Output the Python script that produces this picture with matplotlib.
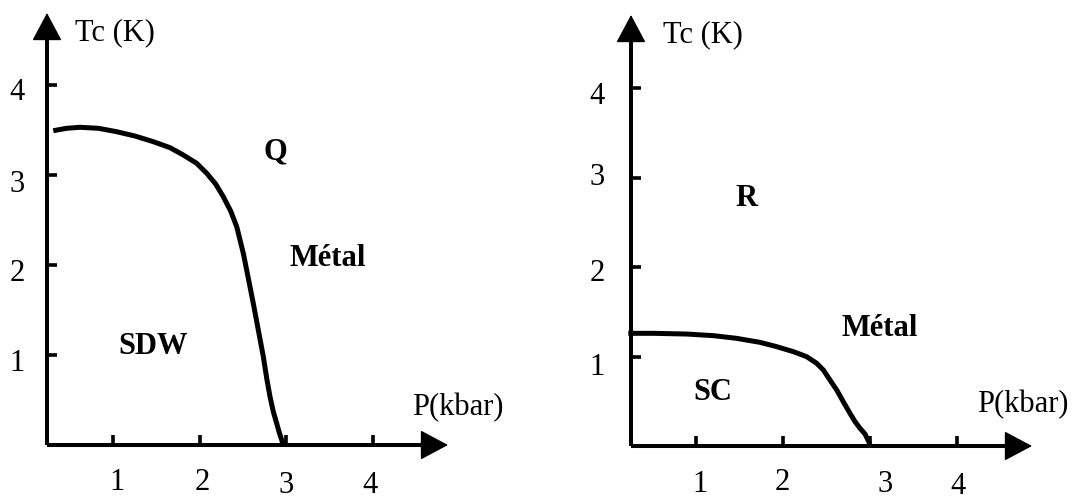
import matplotlib
matplotlib.use("Agg")
import matplotlib.pyplot as plt

# ---------------- data ----------------
ticks = [1, 2, 3, 4]
tick_labels = ["1", "2", "3", "4"]

# left panel: SDW boundary (P in kbar, Tc in K)
sdw_p = [0.311, 0.466, 0.619, 0.831, 1.043, 1.254, 1.465, 1.657, 1.811, 1.965,
         2.081, 2.184, 2.272, 2.357, 2.427, 2.465, 2.503, 2.561, 2.618, 2.676,
         2.734, 2.773, 2.811, 2.849, 2.888, 2.918, 2.946, 2.964]
sdw_t = [3.492, 3.519, 3.530, 3.519, 3.481, 3.433, 3.370, 3.304, 3.222, 3.130,
         3.019, 2.900, 2.759, 2.600, 2.426, 2.278, 2.130, 1.852, 1.574, 1.278,
         0.981, 0.741, 0.537, 0.370, 0.241, 0.137, 0.056, 0.0]

# right panel: SC boundary
sc_p = [0.222, 0.510, 0.893, 1.199, 1.467, 1.736, 1.927, 2.119, 2.272, 2.387,
        2.464, 2.540, 2.617, 2.693, 2.770, 2.828, 2.885, 2.943, 3.000]
sc_t = [1.259, 1.259, 1.251, 1.233, 1.203, 1.158, 1.110, 1.054, 0.998, 0.924,
        0.849, 0.737, 0.626, 0.495, 0.365, 0.272, 0.198, 0.134, 0.02]

ylabel_text = "Tc (K)"
xlabel_text = "P(kbar)"

plt.rcParams['font.family'] = ['Liberation Serif', 'DejaVu Serif']

W, H = 1077, 499
fig = plt.figure(figsize=(W / 100, H / 100), dpi=100)

FS = 22
LW_AX = 2.9
LW_CURVE = 3.6


def make_panel(px0, px1, ox, sx, oy, sy, curve_p, curve_t, xtip, ytip,
               ylab_dx, ylab_dy, xlab_dx, xlab_y, ylabel_pos, xlabel_pos, region_texts):
    ax = fig.add_axes([px0 / W, 0, (px1 - px0) / W, 1])
    ax.set_xlim((px0 - ox) / sx, (px1 - ox) / sx)
    ax.set_ylim((oy - H) / sy, oy / sy)
    ax.set_axis_off()
    x0 = ylab_dx[0]
    ax.plot([x0, xtip - 0.2], [0, 0], color='black', lw=LW_AX, solid_capstyle='butt')
    ax.plot([x0, x0], [0, ytip - 0.2], color='black', lw=LW_AX, solid_capstyle='butt')
    for xy, xyt in (((xtip, 0), (xtip - 0.3, 0)), ((x0, ytip), (x0, ytip - 0.3))):
        ax.annotate('', xy=xy, xytext=xyt,
                    arrowprops=dict(arrowstyle='-|>,head_length=0.9,head_width=0.48',
                                    color='black', lw=1, mutation_scale=20,
                                    shrinkA=0, shrinkB=0))
    tlx = 10 / sx
    tly = 10 / sy
    for t in ticks:
        ax.plot([x0, x0 + tlx], [t, t], color='black', lw=2.6, solid_capstyle='butt')
        ax.plot([t, t], [0, tly], color='black', lw=2.6, solid_capstyle='butt')
    for i, (t, lab) in enumerate(zip(ticks, tick_labels)):
        ax.text(ylab_dx[1], t + ylab_dy[i], lab, fontsize=FS, ha='center', va='center')
        ax.text(t + xlab_dx[i], xlab_y[i], lab, fontsize=FS, ha='center', va='center')
    ax.text(ylabel_pos[0], ylabel_pos[1], ylabel_text, fontsize=FS, ha='left', va='center')
    ax.text(xlabel_pos[0], xlabel_pos[1], xlabel_text, fontsize=FS, ha='left', va='center')
    ax.plot(curve_p, curve_t, color='black', lw=LW_CURVE, solid_capstyle='butt',
            solid_joinstyle='round')
    for (x, y, s) in region_texts:
        ax.text(x, y, s, fontsize=FS, fontweight='bold', ha='center', va='center')
    return ax


# left panel
make_panel(0, 470, 26.3, 86.7, 445, 90, sdw_p, sdw_t,
           xtip=(448 - 26.3) / 86.7, ytip=(445 - 13) / 90,
           ylab_dx=((47 - 26.3) / 86.7, (17 - 26.3) / 86.7),
           ylab_dy=[-0.09, -0.09, -0.11, -0.08],
           xlab_dx=[0.05, 0.03, 0.0, -0.03],
           xlab_y=[-0.42, -0.42, -0.45, -0.45],
           ylabel_pos=((75 - 26.3) / 86.7, (445 - 33) / 90),
           xlabel_pos=((412 - 26.3) / 86.7, (445 - 408) / 90),
           region_texts=[((275 - 26.3) / 86.7, (445 - 152) / 90, "Q"),
                         ((328 - 26.3) / 86.7, (445 - 258) / 90, "Métal"),
                         ((153 - 26.3) / 86.7, (445 - 347) / 90, "SDW")])

# right panel
make_panel(560, 1077, 609, 87, 446, 89.5, sc_p, sc_t,
           xtip=(1032 - 609) / 87, ytip=(446 - 15) / 89.5,
           ylab_dx=((631 - 609) / 87, (597 - 609) / 87),
           ylab_dy=[-0.12, -0.07, 0.0, -0.1],
           xlab_dx=[0.05, -0.01, 0.17, 0.01],
           xlab_y=[-0.43, -0.41, -0.43, -0.45],
           ylabel_pos=((663 - 609) / 87, (446 - 35) / 89.5),
           xlabel_pos=((977 - 609) / 87, (446 - 405) / 89.5),
           region_texts=[((747 - 609) / 87, (446 - 199) / 89.5, "R"),
                         ((880 - 609) / 87, (446 - 328) / 89.5, "Métal"),
                         ((713 - 609) / 87, (446 - 393) / 89.5, "SC")])

fig.savefig("out.png", dpi=100)
